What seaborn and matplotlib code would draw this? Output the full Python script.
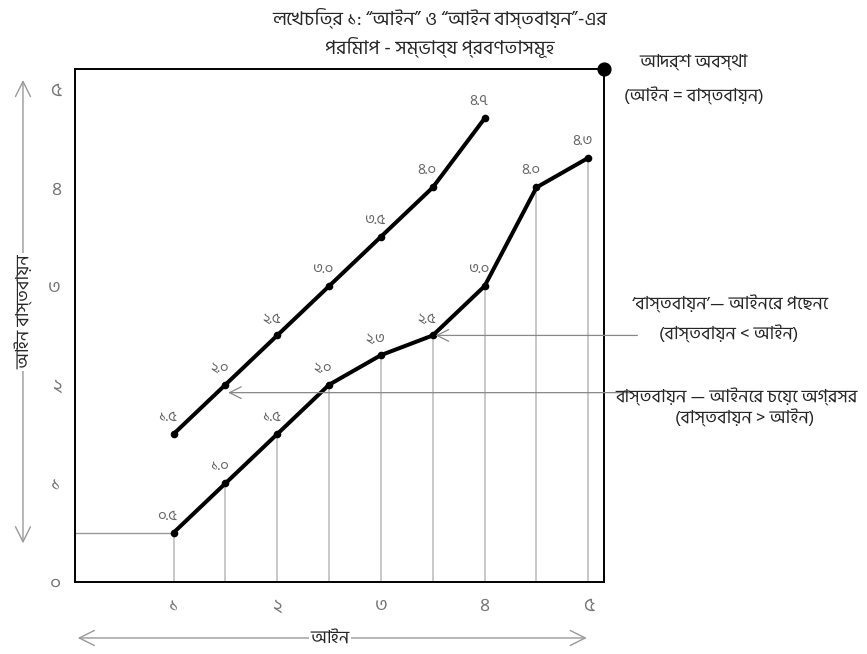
import matplotlib
matplotlib.use("Agg")
import matplotlib.pyplot as plt
from matplotlib.patches import FancyArrowPatch
import seaborn as sns

# data: "law" (x) vs "implementation" (y)
upper_x = [1, 1.5, 2, 2.5, 3, 3.5, 4]
upper_y = [1.5, 2.0, 2.5, 3.0, 3.5, 4.0, 4.7]
lower_x = [1, 1.5, 2, 2.5, 3, 3.5, 4, 4.5, 5]
lower_y = [0.5, 1.0, 1.5, 2.0, 2.3, 2.5, 3.0, 4.0, 4.3]
ticks = [0, 1, 2, 3, 4, 5]
bn_digits = "০১২৩৪৫৬৭৮৯"


def bn(v):
    s = "%.1f" % v
    return "".join(bn_digits[int(c)] if c.isdigit() else c for c in s)


sns.set_theme(style="white")
plt.rcParams["font.family"] = ["Hind Siliguri", "Noto Sans Bengali", "DejaVu Sans"]

fig = plt.figure(figsize=(8.67, 6.54), dpi=100)
ax = fig.add_axes([0.0865, 0.110, 0.610, 0.7844])

grey = "#c4c4c4"
ax.vlines(lower_x, 0, lower_y, color=grey, lw=1.3, zorder=1)
ax.hlines(lower_y[0], 0, lower_x[0], color="#999999", lw=1.0, zorder=1)

sns.lineplot(x=upper_x, y=upper_y, color="black", lw=2.9, marker="o",
             markersize=5.5, markeredgewidth=0, ax=ax, zorder=3)
sns.lineplot(x=lower_x, y=lower_y, color="black", lw=2.9, marker="o",
             markersize=5.5, markeredgewidth=0, ax=ax, zorder=3)

for xs, ys in [(upper_x, upper_y), (lower_x, lower_y)]:
    for x, y in zip(xs, ys):
        ax.annotate(bn(y), (x, y), xytext=(-6, 17), textcoords="offset pixels",
                    ha="center", va="center", fontsize=11, color="#666666")

ax.set_xlim(0.05, 5.15)
ax.set_ylim(0.02, 5.2)
ax.set_xticks(ticks[1:])
ax.set_xticklabels([bn_digits[t] for t in ticks[1:]])
ax.set_yticks(ticks)
ax.set_yticklabels([bn_digits[t] for t in ticks])
ax.tick_params(axis="both", length=0, labelsize=14, labelcolor="#777777")
ax.tick_params(axis="x", pad=11)
ax.tick_params(axis="y", pad=10)
for sp in ax.spines.values():
    sp.set_color("black")
    sp.set_linewidth(1.4)
ax.grid(False)

# ideal point at the top-right corner
ax.scatter([1], [1], s=85, color="black", transform=ax.transAxes,
           clip_on=False, zorder=5)

arr = dict(arrowstyle="->,head_length=0.7,head_width=0.35", color="#888888", lw=0.9)
ax.annotate("", xy=(lower_x[5], lower_y[5]), xytext=(5.5, lower_y[5]),
            arrowprops=arr, annotation_clip=False)
ax.annotate("", xy=(upper_x[1], upper_y[1] - 0.08), xytext=(5.45, upper_y[1] - 0.08),
            arrowprops=arr, annotation_clip=False)

fs = 13
fig.text(0.842, 0.537, "‘বাস্তবায়ন’— আইনের পেছনে", ha="center", va="center", fontsize=fs)
fig.text(0.840, 0.491, "(বাস্তবায়ন < আইন)", ha="center", va="center", fontsize=fs)
fig.text(0.850, 0.395, "বাস্তবায়ন — আইনের চেয়ে অগ্রসর", ha="center", va="center", fontsize=fs)
fig.text(0.859, 0.362, "(বাস্তবায়ন > আইন)", ha="center", va="center", fontsize=fs)
fig.text(0.800, 0.905, "আদর্শ অবস্থা", ha="center", va="center", fontsize=fs)
fig.text(0.800, 0.855, "(আইন = বাস্তবায়ন)", ha="center", va="center", fontsize=fs)

fig.text(0.507, 0.972, "লেখচিত্র ১: “আইন” ও “আইন বাস্তবায়ন”-এর", ha="center",
         va="center", fontsize=14)
fig.text(0.507, 0.928, "পরিমাপ - সম্ভাব্য প্রবণতাসমূহ", ha="center",
         va="center", fontsize=14)

axarr = dict(arrowstyle="<->,head_length=0.9,head_width=0.45", color="#999999",
             lw=1.0, mutation_scale=12)
fig.add_artist(FancyArrowPatch((0.0265, 0.165), (0.0265, 0.882),
                               transform=fig.transFigure, **axarr))
fig.text(0.0265, 0.523, "আইন বাস্তবায়ন", rotation=90, ha="center", va="center",
         fontsize=13, zorder=5,
         bbox=dict(facecolor="white", edgecolor="none", pad=1))
fig.add_artist(FancyArrowPatch((0.0865, 0.0245), (0.680, 0.0245),
                               transform=fig.transFigure, **axarr))
fig.text(0.381, 0.0245, "আইন", ha="center", va="center", fontsize=13, zorder=5,
         bbox=dict(facecolor="white", edgecolor="none", pad=1))

fig.savefig("out.png", dpi=100)
